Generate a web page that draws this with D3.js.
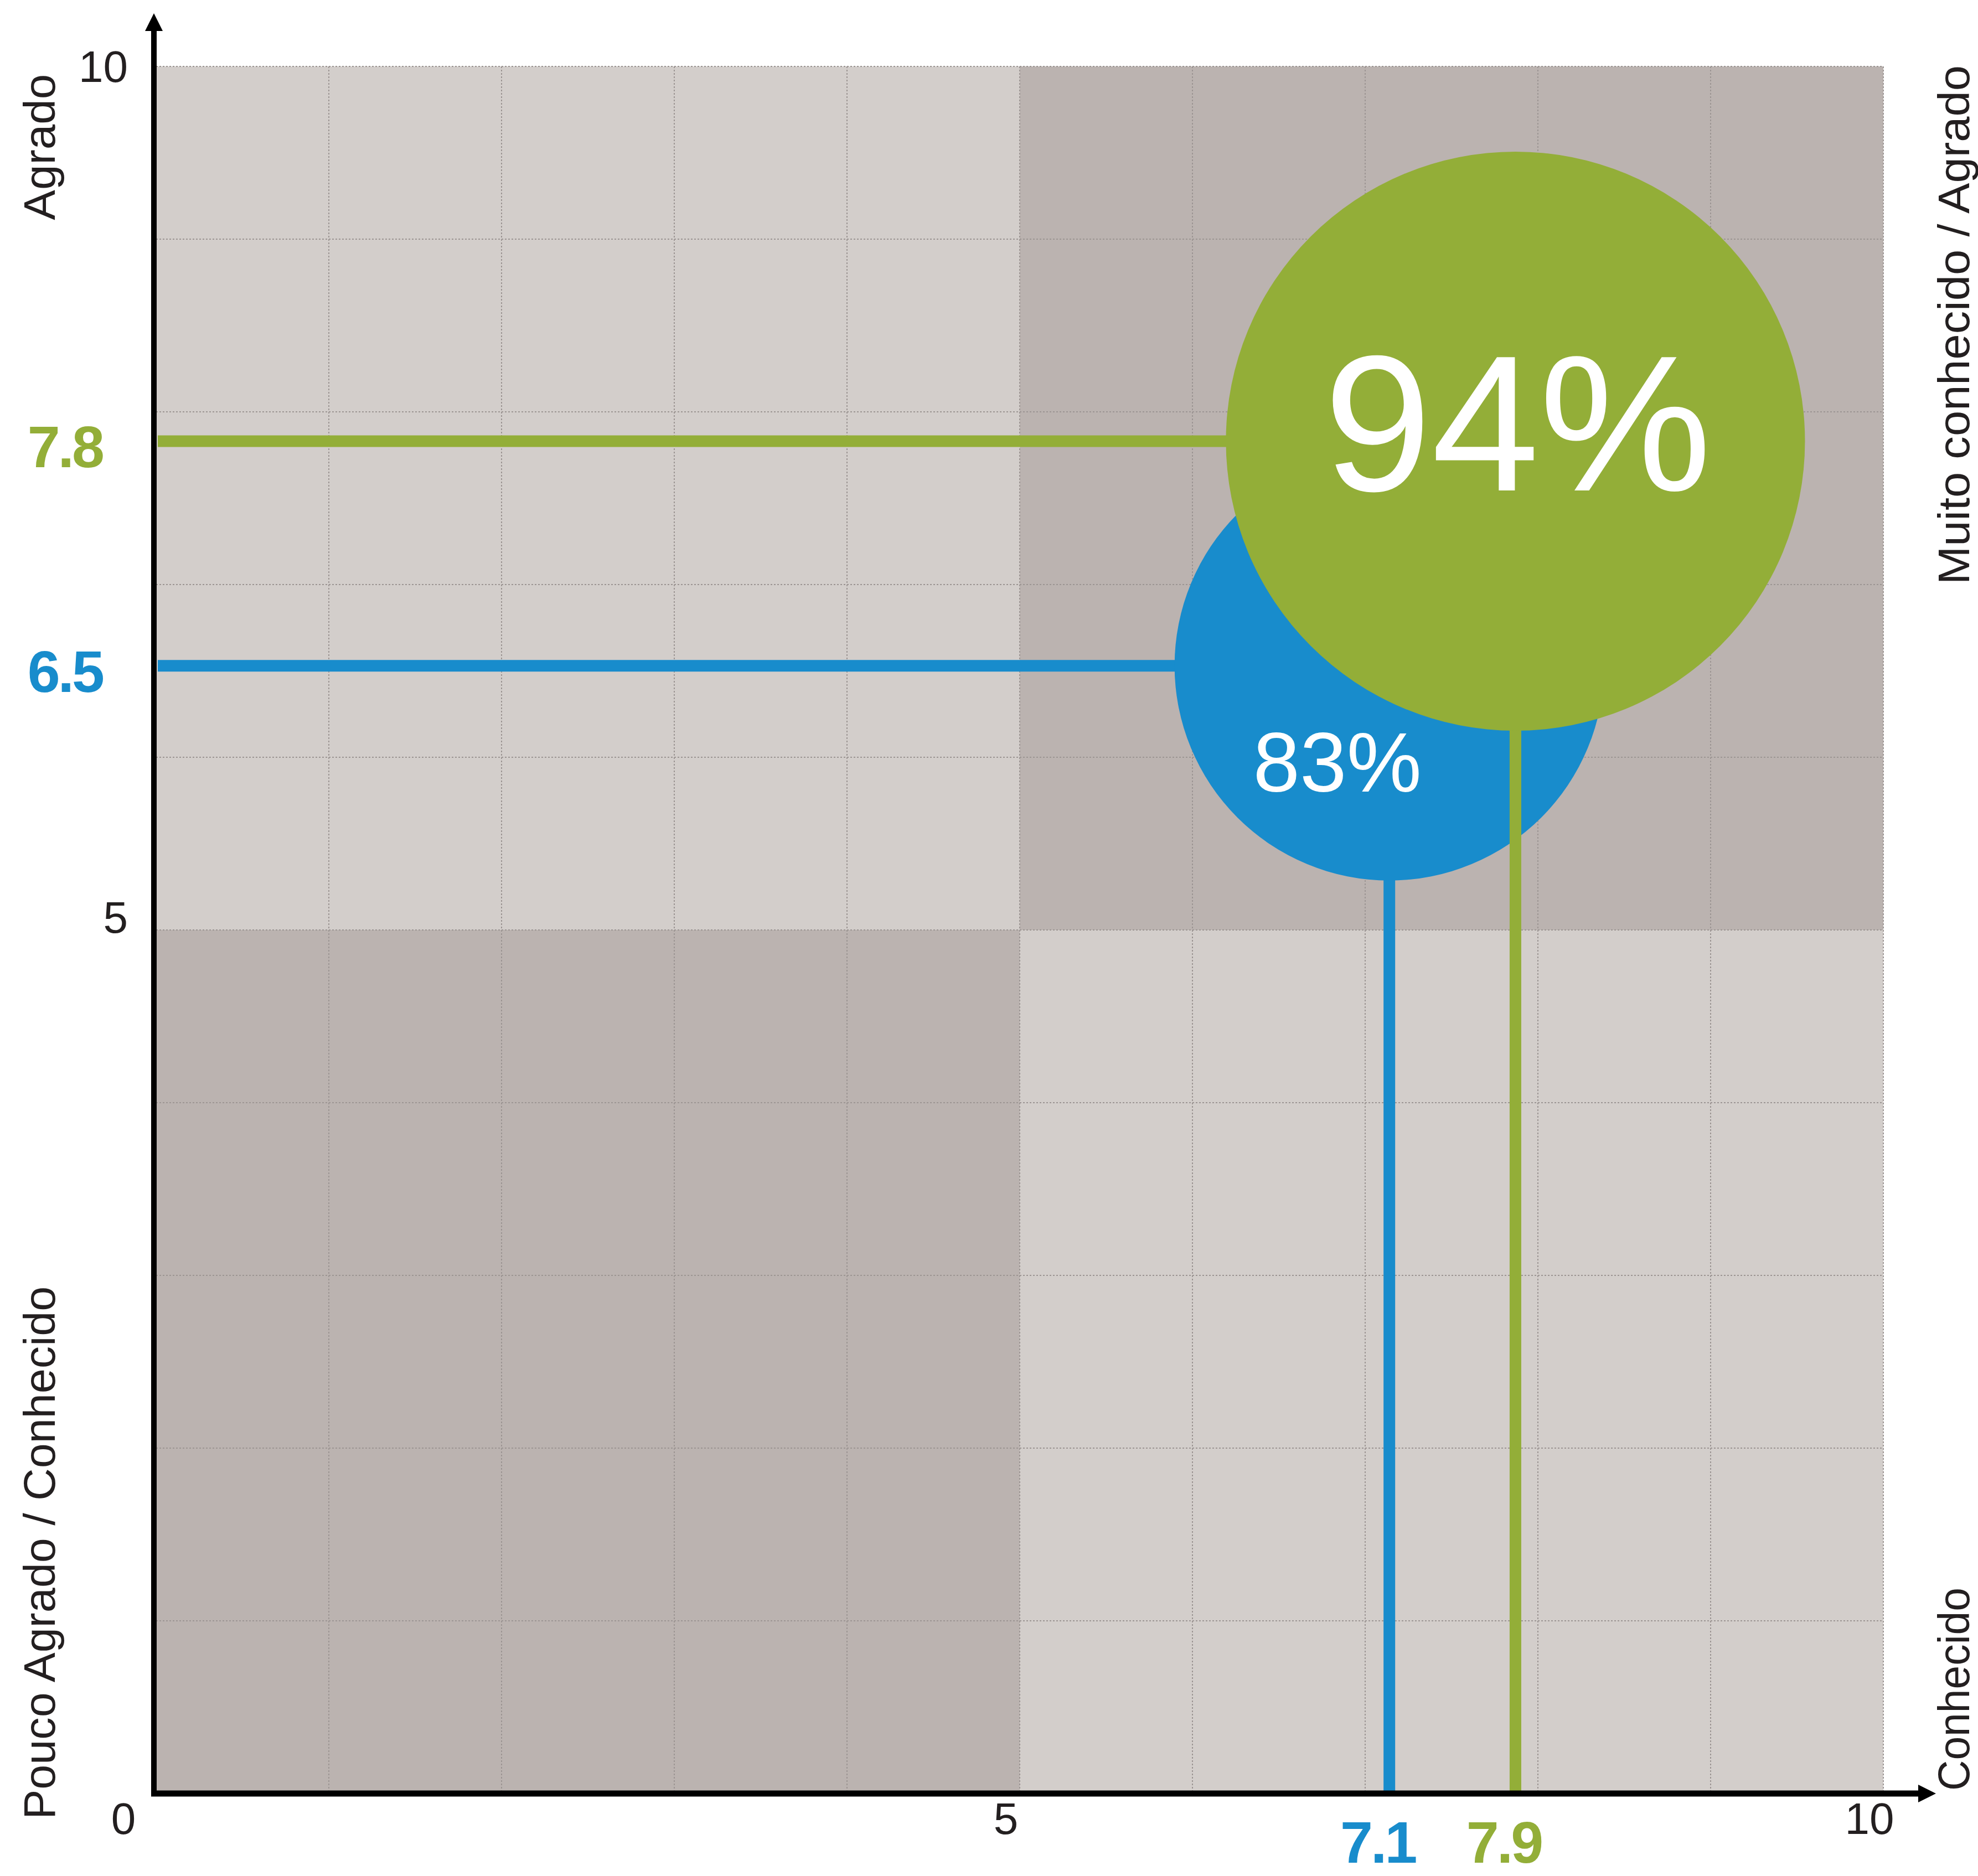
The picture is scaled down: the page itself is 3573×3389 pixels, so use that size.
<!DOCTYPE html>
<html>
<head>
<meta charset="utf-8">
<script src="https://cdn.jsdelivr.net/npm/d3@7"></script>
<style>
  html, body { margin: 0; padding: 0; background: #ffffff; }
  svg { display: block; }
</style>
</head>
<body>
<div id="chart"></div>
<script>
// ---------------- DATA ----------------
const seriesNames = ["Azul", "Verde"];
const xValues = [7.14, 7.87];          // Conhecimento
const yValues = [6.53, 7.83];          // Agrado
const pctValues = [83, 94];            // percentage shown in bubble
const xTickValues = [5, 10];
const yTickValues = [10, 5];
const originLabel = "0";
const quadrantCells = [
  { x0: 0, x1: 5, y0: 5, y1: 10, tone: "light" },
  { x0: 5, x1: 10, y0: 5, y1: 10, tone: "dark" },
  { x0: 0, x1: 5, y0: 0, y1: 5, tone: "dark" },
  { x0: 5, x1: 10, y0: 0, y1: 5, tone: "light" }
];
const sideLabelTexts = ["Agrado", "Pouco Agrado / Conhecido", "Muito conhecido / Agrado", "Conhecido"];
const sideLabelSides = ["left", "left", "right", "right"];

// ---------------- LAYOUT / STYLE ----------------
const W = 3573, H = 3389;
const plot = { left: 282, right: 3402, top: 120, bottom: 3240 };
const colors = ["#188ccc", "#93ae38"];
const tones = { light: "#d3cecb", dark: "#bbb3b0" };
const textColor = "#231f20";
const baseFont = "'Liberation Sans', Arial, sans-serif";
const yTickDy = { 10: 28, 5: 5 };
const sideLabelStart = [9.11, -0.15, 7.0, 0.016];   // in axis units (y)
const sideLabelLengths = [264, 963, 938, 367];

const x = d3.scaleLinear().domain([0, 10]).range([plot.left, plot.right]);
const y = d3.scaleLinear().domain([0, 10]).range([plot.bottom, plot.top]);
const r = d3.scaleLinear().domain([83, 94]).range([388, 523]);

const svg = d3.select("#chart").append("svg")
  .attr("width", W).attr("height", H)
  .attr("viewBox", `0 0 ${W} ${H}`);

// quadrants
svg.append("g").selectAll("rect").data(quadrantCells).join("rect")
  .attr("x", d => x(d.x0))
  .attr("y", d => y(d.y1))
  .attr("width", d => x(d.x1) - x(d.x0))
  .attr("height", d => y(d.y0) - y(d.y1))
  .attr("fill", d => tones[d.tone]);

// grid
const gridVals = d3.range(1, 11);
const grid = svg.append("g")
  .attr("stroke", "#9c9593")
  .attr("stroke-width", 2)
  .attr("stroke-dasharray", "3,3")
  .attr("fill", "none");
grid.selectAll("line.v").data(gridVals).join("line").attr("class", "v")
  .attr("x1", d => x(d)).attr("x2", d => x(d))
  .attr("y1", y(10)).attr("y2", y(0));
grid.selectAll("line.h").data(gridVals).join("line").attr("class", "h")
  .attr("x1", x(0)).attr("x2", x(10))
  .attr("y1", d => y(d)).attr("y2", d => y(d));

// series
const data = seriesNames.map((n, i) => ({
  name: n, x: xValues[i], y: yValues[i], pct: pctValues[i], color: colors[i], i
}));

const gSeries = svg.append("g");
data.forEach(d => {
  const g = gSeries.append("g");
  const cx = x(d.x), cy = y(d.y);
  g.append("line")
    .attr("x1", x(0) + 3).attr("x2", cx)
    .attr("y1", cy).attr("y2", cy)
    .attr("stroke", d.color).attr("stroke-width", 21);
  g.append("line")
    .attr("x1", cx).attr("x2", cx)
    .attr("y1", cy).attr("y2", y(0))
    .attr("stroke", d.color).attr("stroke-width", 21);
  g.append("circle")
    .attr("cx", cx).attr("cy", cy).attr("r", r(d.pct))
    .attr("fill", d.color);
  const big = d.pct === d3.max(pctValues);
  g.append("text")
    .attr("x", big ? cx + 4 : cx - 94)
    .attr("y", big ? cy + 89 : cy + 227)
    .attr("text-anchor", "middle")
    .attr("font-family", baseFont)
    .attr("font-size", big ? 350 : 152)
    .attr("fill", "#ffffff")
    .text(d.pct + "%");
});

// axes
const axes = svg.append("g");
axes.append("line")
  .attr("x1", x(0) - 4).attr("x2", x(0) - 4)
  .attr("y1", y(0) + 5).attr("y2", 55)
  .attr("stroke", "#000").attr("stroke-width", 10);
axes.append("path")
  .attr("d", `M${x(0) - 4},24 L${x(0) - 20},56 L${x(0) + 12},56 Z`)
  .attr("fill", "#000");
axes.append("line")
  .attr("x1", x(0) - 9).attr("x2", 3466)
  .attr("y1", y(0)).attr("y2", y(0))
  .attr("stroke", "#000").attr("stroke-width", 11);
axes.append("path")
  .attr("d", `M3497,${y(0)} L3465,${y(0) - 16} L3465,${y(0) + 16} Z`)
  .attr("fill", "#000");

// tick labels
const ticks = svg.append("g")
  .attr("font-family", baseFont)
  .attr("font-size", 80)
  .attr("fill", textColor);
ticks.selectAll("text.xt").data(xTickValues).join("text").attr("class", "xt")
  .attr("x", d => x(d) - 25)
  .attr("y", y(0) + 73)
  .attr("text-anchor", "middle")
  .text(d => d);
ticks.selectAll("text.yt").data(yTickValues).join("text").attr("class", "yt")
  .attr("x", x(0) - 51)
  .attr("y", d => y(d) + yTickDy[d])
  .attr("text-anchor", "end")
  .text(d => d);
ticks.append("text")
  .attr("x", x(0) - 59)
  .attr("y", y(0) + 73)
  .attr("text-anchor", "middle")
  .text(originLabel);

// value labels
const vals = svg.append("g")
  .attr("font-family", baseFont)
  .attr("font-weight", "bold")
  .attr("font-size", 106)
  .attr("letter-spacing", -4);
vals.selectAll("text.yv").data(data).join("text").attr("class", "yv")
  .attr("x", 185)
  .attr("y", d => y(d.y) + 47)
  .attr("text-anchor", "end")
  .attr("fill", d => d.color)
  .text(d => d.y.toFixed(1));
vals.selectAll("text.xv").data(data).join("text").attr("class", "xv")
  .attr("x", d => x(d.x) - 21)
  .attr("y", 3365)
  .attr("text-anchor", "middle")
  .attr("fill", d => d.color)
  .text(d => d.x.toFixed(1));

// side labels (rotated)
svg.append("g")
  .attr("font-family", baseFont)
  .attr("font-size", 80)
  .attr("fill", textColor)
  .selectAll("text").data(sideLabelTexts).join("text")
  .attr("transform", (d, i) => {
    const bx = sideLabelSides[i] === "left" ? 99 : 3557;
    return `translate(${bx},${y(sideLabelStart[i])}) rotate(-90)`;
  })
  .attr("textLength", (d, i) => sideLabelLengths[i])
  .attr("lengthAdjust", "spacingAndGlyphs")
  .text(d => d);
</script>
</body>
</html>
